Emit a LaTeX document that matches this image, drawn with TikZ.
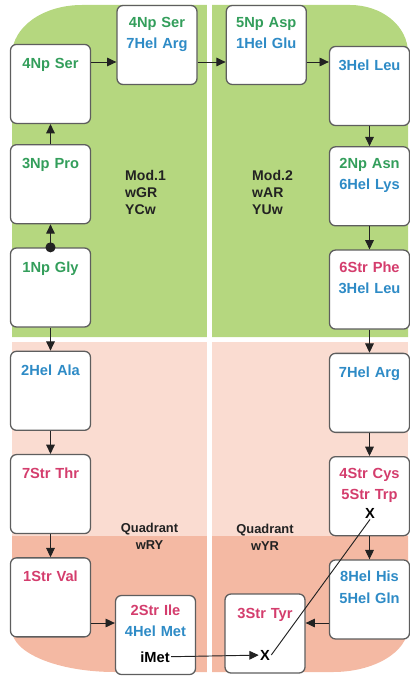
\documentclass[tikz,border=0pt]{standalone}
\usepackage{fontspec}
\setmainfont{Liberation Sans}
\usetikzlibrary{arrows.meta,positioning}
\definecolor{modgreen}{HTML}{B5D77F}
\definecolor{quadlight}{HTML}{FADCD1}
\definecolor{quaddark}{HTML}{F4B9A3}
\definecolor{npgreen}{HTML}{339E5B}
\definecolor{helblue}{HTML}{2E8BC6}
\definecolor{strred}{HTML}{D43D6D}
\definecolor{boxgray}{HTML}{5E5E5E}
\definecolor{arrowdark}{HTML}{222222}
\newcommand{\nptxt}[1]{\textcolor{npgreen}{#1}}
\newcommand{\heltxt}[1]{\textcolor{helblue}{#1}}
\newcommand{\strtxt}[1]{\textcolor{strred}{#1}}
\newcommand{\boxfont}{\fontsize{12.5}{18}\selectfont\bfseries}

\begin{document}
\begin{tikzpicture}[x=0.03cm,y=-0.03cm,
    box/.style={draw=boxgray,line width=1.1pt,fill=white,rounded corners=0.18cm,inner sep=0pt,
      text width=2.4cm,minimum width=2.4cm,minimum height=2.37cm,align=center,
      text height=0.72cm,text depth=1.65cm,font=\boxfont},
    box2/.style={box,text height=0.66cm,text depth=1.71cm},
    arr/.style={-{Triangle[length=0.28cm,width=0.26cm]},line width=0.8pt,draw=arrowdark},
    dotarr/.style={arr,{Circle[length=0.3cm]}-{Triangle[length=0.28cm,width=0.26cm]},shorten <=-0.15cm},
    tag/.style={font=\boxfont,text=black,inner sep=1pt},
    modlabel/.style={font=\fontsize{12}{14.5}\selectfont\bfseries,text=arrowdark,align=left,inner sep=0pt},
    quadlabel/.style={font=\fontsize{11}{14.5}\selectfont\bfseries,text=arrowdark,align=center,inner sep=0pt}]
  \useasboundingbox (0,0) rectangle (409,677);
  % background quadrants
  \fill[modgreen] (12,337) -- (12,55) .. controls (12,27) and (43,5) .. (82,5) -- (350,5)
    .. controls (382,5) and (408,26) .. (408,53) -- (408,337) -- cycle;
  \fill[quadlight] (12,342) rectangle (408,536);
  \fill[quaddark] (12,536) -- (12,630) .. controls (12,653) and (58,672) .. (115,672) -- (333,672)
    .. controls (374,672) and (408,652) .. (408,627) -- (408,536) -- cycle;
  \fill[white] (207,0) rectangle (212,677);
  \coordinate (rowtop) at (0,62);
  \coordinate (rowbot) at (0,623);
  % left column
  \node[box] (gly1) at (50.5,287.5) {\nptxt{1Np Gly}};
  \node[box,above=0.69cm of gly1] (pro3) {\nptxt{3Np Pro}};
  \node[box,above=0.6cm of pro3] (serL) {\nptxt{4Np Ser}};
  \node[box,below=0.69cm of gly1] (ala2) {\heltxt{2Hel Ala}};
  \node[box,below=0.69cm of ala2] (thr7) {\strtxt{7Str Thr}};
  \node[box,below=0.69cm of thr7] (val1) {\strtxt{1Str Val}};
  % top row
  \node[box2] (serT) at (157,45) {\nptxt{4Np Ser}\\\heltxt{7Hel Arg}};
  \node[box2,right=0.84cm of serT] (asp5) {\nptxt{5Np Asp}\\\heltxt{1Hel Glu}};
  % right column
  \node[box] (leu3) at (369.5,86) {\heltxt{3Hel Leu}};
  \node[box2,below=0.6cm of leu3] (asn2) {\nptxt{2Np Asn}\\\heltxt{6Hel Lys}};
  \node[box2,below=0.69cm of asn2] (phe6) {\strtxt{6Str Phe}\\\heltxt{3Hel Leu}};
  \node[box,below=0.69cm of phe6] (arg7) {\heltxt{7Hel Arg}};
  \node[box2,below=0.69cm of arg7] (cys4) {\strtxt{4Str Cys}\\\strtxt{5Str Trp}};
  \node[box2,below=0.69cm of cys4] (his8) {\heltxt{8Hel His}\\\heltxt{5Hel Gln}};
  % bottom row
  \node[box] (tyr3) at (265,633.5) {\strtxt{3Str Tyr}};
  \node[box,text height=0.6cm,text depth=1.77cm] (ile2) at (155.5,635) {\strtxt{2Str Ile}\\\heltxt{4Hel Met}};
  \node[tag] (imet) at (155,657) {iMet};
  \node[tag] (xtyr) at (265,655) {X};
  \node[tag] (xcys) at (370,513) {X};
  % region labels
  \node[modlabel,anchor=west] (mod1) at (125,192) {Mod.1\\wGR\\YCw};
  \node[modlabel,anchor=west] (mod2) at (252,192) {Mod.2\\wAR\\YUw};
  \node[quadlabel] (quadRY) at (149.5,536) {Quadrant\\wRY};
  \node[quadlabel] (quadYR) at (265,537) {Quadrant\\wYR};
  % connectors
  \draw[dotarr] (gly1) -- (pro3);
  \draw[arr] (pro3) -- (serL);
  \draw[arr] (serL.east |- rowtop) -- (serT.west |- rowtop);
  \draw[arr] (serT.east |- rowtop) -- (asp5.west |- rowtop);
  \draw[arr] (asp5.east |- rowtop) -- (leu3.west |- rowtop);
  \draw[arr] (leu3) -- (asn2);
  \draw[arr] (asn2) -- (phe6);
  \draw[arr] (phe6) -- (arg7);
  \draw[arr] (arg7) -- (cys4);
  \draw[arr] (cys4) -- (his8);
  \draw[arr] (his8.west |- rowbot) -- (tyr3.east |- rowbot);
  \draw[arr] (gly1) -- (ala2);
  \draw[arr] (ala2) -- (thr7);
  \draw[arr] (thr7) -- (val1);
  \draw[arr] (val1.east |- rowbot) -- (ile2.west |- rowbot);
  \draw[arr] (imet) -- (xtyr);
  \draw[line width=0.8pt,draw=arrowdark] (xtyr.east) -- (xcys.south);
\end{tikzpicture}
\end{document}
